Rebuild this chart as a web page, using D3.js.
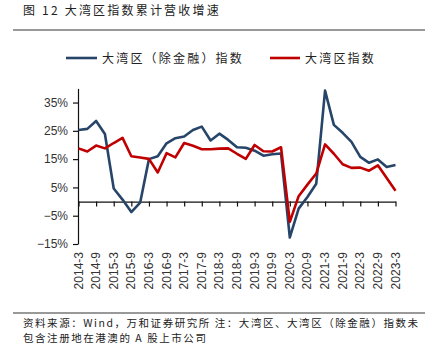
<!DOCTYPE html>
<html><head><meta charset="utf-8">
<script src="https://cdn.jsdelivr.net/npm/d3@7"></script>
<style>
html,body{margin:0;padding:0;background:#fff;}
svg{display:block;}
</style>
</head><body>
<svg id="c" width="435" height="356"></svg>
<script>
const categories = ["2014-3","2014-6","2014-9","2014-12","2015-3","2015-6","2015-9","2015-12","2016-3","2016-6","2016-9","2016-12","2017-3","2017-6","2017-9","2017-12","2018-3","2018-6","2018-9","2018-12","2019-3","2019-6","2019-9","2019-12","2020-3","2020-6","2020-9","2020-12","2021-3","2021-6","2021-9","2021-12","2022-3","2022-6","2022-9","2022-12","2023-3"];
const exFinance = [25.3,25.7,28.5,23.9,4.6,0.7,-3.7,-0.4,15.0,16.0,20.6,22.4,23.0,25.3,26.5,21.6,24.0,21.8,19.2,19.0,18.0,16.2,16.7,17.0,-12.7,-2.5,1.6,6.3,39.2,27.1,24.3,21.1,15.8,13.7,14.9,12.2,12.9];
const indexAll  = [18.8,17.7,19.8,18.8,20.7,22.5,16.0,15.6,15.1,10.3,17.1,15.6,20.7,19.7,18.5,18.5,18.7,18.8,16.9,15.1,20.0,17.8,17.7,19.2,-7.2,1.9,6.0,9.9,20.2,16.9,13.2,11.9,12.0,10.9,12.8,8.3,3.8];
const yTicks = [-15,-5,5,15,25,35];
const seriesNames = ["大湾区（除金融）指数","大湾区指数"];
const seriesColors = ["#274569","#C00000"];
const title = "图 12  大湾区指数累计营收增速";
const noteLines = ["资料来源：Wind，万和证券研究所 注：大湾区、大湾区（除金融）指数未","包含注册地在港澳的 A 股上市公司"];

const svg = d3.select("#c");
const cjk = "'Noto Sans CJK SC','Liberation Sans',sans-serif";
const lat = "'Liberation Sans',Arial,sans-serif";

// title
svg.append("text").attr("x",23).attr("y",15).attr("font-family",cjk).attr("font-size",12)
  .attr("letter-spacing",2.2).attr("fill","#222").text(title);
// rules
svg.append("line").attr("x1",13).attr("x2",425).attr("y1",30).attr("y2",30).attr("stroke","#999").attr("stroke-width",2);
svg.append("line").attr("x1",13).attr("x2",425).attr("y1",313).attr("y2",313).attr("stroke","#999").attr("stroke-width",2);

const x = d3.scalePoint().domain(categories).range([78.5,395.5]);
const y = d3.scaleLinear().domain([-15,40]).range([244,88.4]);

// y axis
const yAxis = svg.append("g").attr("transform","translate(78,0)")
  .call(d3.axisLeft(y).tickValues(yTicks).tickSize(5).tickSizeOuter(0)
    .tickFormat(d=> (d<0?"\u2212"+Math.abs(d):d)+"%"));
yAxis.select(".domain").attr("stroke","#111").attr("stroke-width",1.2);
yAxis.selectAll(".tick line").attr("stroke","#111").attr("stroke-width",1.2);
yAxis.selectAll("text").attr("font-family",lat).attr("font-size",12).attr("fill","#333").attr("x",-10);

// x axis at zero
const xTickVals = categories.filter((d,i)=>i%2===0);
const xAxis = svg.append("g").attr("transform",`translate(0,${y(0)})`)
  .call(d3.axisBottom(x).tickValues(xTickVals).tickSize(5).tickSizeOuter(0).tickFormat(""));
xAxis.select(".domain").attr("stroke","#111").attr("stroke-width",1.2);
xAxis.selectAll(".tick line").attr("stroke","#111").attr("stroke-width",1.2);

// x labels at bottom, rotated
svg.append("g").selectAll("text").data(xTickVals).join("text")
  .attr("transform",d=>`translate(${x(d)+4},252) rotate(-90)`)
  .attr("text-anchor","end").attr("font-family",lat).attr("font-size",12).attr("fill","#333")
  .text(d=>d);

// lines
const line = d3.line().x((d,i)=>x(categories[i])).y(d=>y(d));
[exFinance,indexAll].forEach((s,k)=>{
  svg.append("path").datum(s).attr("d",line).attr("fill","none")
    .attr("stroke",seriesColors[k]).attr("stroke-width",2.6).attr("stroke-linejoin","round");
});

// legend
const leg = [{x1:66,x2:97,tx:102},{x1:270,x2:300,tx:305}];
leg.forEach((l,k)=>{
  svg.append("line").attr("x1",l.x1).attr("x2",l.x2).attr("y1",58).attr("y2",58)
    .attr("stroke",seriesColors[k]).attr("stroke-width",2.6);
  svg.append("text").attr("x",l.tx).attr("y",62.5).attr("font-family",cjk).attr("font-size",12)
    .attr("letter-spacing",2.2).attr("fill","#222").text(seriesNames[k]);
});

// notes
noteLines.forEach((t,i)=>{
  svg.append("text").attr("x",23).attr("y",326.5+i*15.5).attr("font-family",cjk).attr("font-size",10.5)
    .attr("letter-spacing",1.55).attr("fill","#222").text(t);
});
</script>
</body></html>
